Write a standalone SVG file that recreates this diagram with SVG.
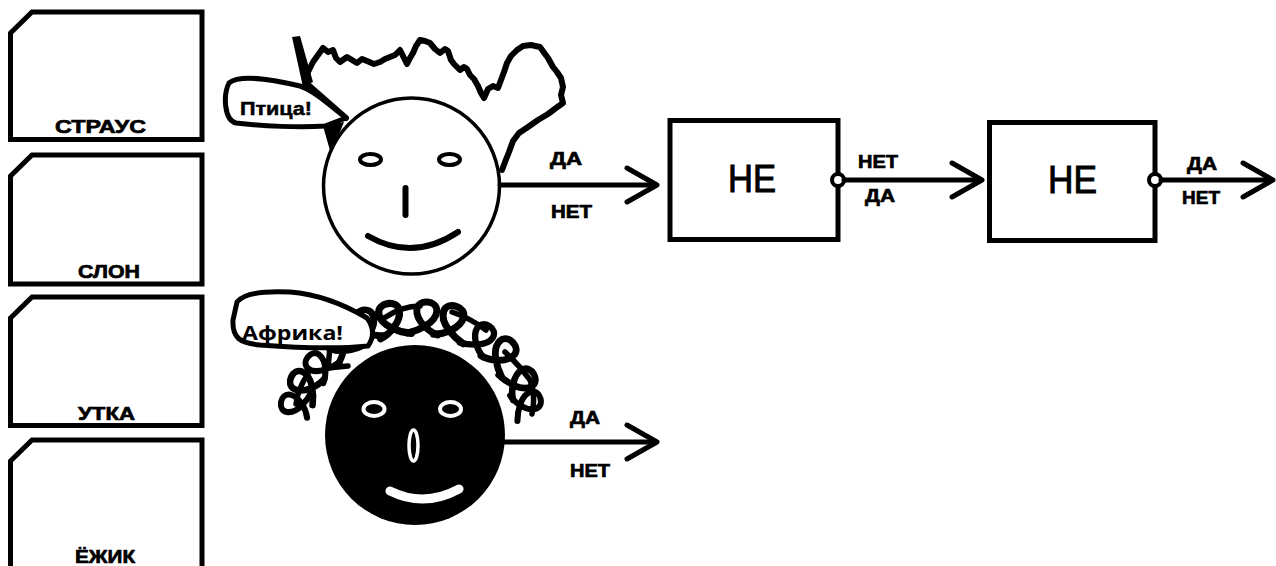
<svg xmlns="http://www.w3.org/2000/svg" width="1276" height="566" viewBox="0 0 1276 566">
  <style>
    .card{fill:#fff;stroke:#000;stroke-width:5;stroke-linejoin:miter}
    .lbl{font-family:"Liberation Sans",Arial,sans-serif;font-weight:bold;font-size:19px;fill:#000;stroke:#000;stroke-width:0.7}
    .gate{fill:#fff;stroke:#000;stroke-width:5}
    .gname{font-family:"Liberation Sans",Arial,sans-serif;font-size:38px;fill:#000;stroke:#000;stroke-width:1;text-anchor:middle}
    .wire{fill:none;stroke:#000;stroke-width:5;stroke-linecap:round;stroke-linejoin:round}
    .inv{fill:#fff;stroke:#000;stroke-width:4}
    .ink{fill:none;stroke:#000;stroke-width:6;stroke-linecap:round;stroke-linejoin:round}
    .bubble{fill:#fff;stroke:#000;stroke-width:5;stroke-linejoin:round}
    .say{font-family:"Liberation Sans",Arial,sans-serif;font-weight:bold;font-size:19px;fill:#000;stroke:#000;stroke-width:0.5}
    .curl{fill:none;stroke:#000;stroke-width:5.5;stroke-linecap:round;stroke-linejoin:round}
  </style>
  <defs>
    <path id="chevron" d="M-30,-17 L0,0 L-30,17"/>
    <!-- one loop of curly hair, opening outward along -y -->
    <path id="curl" d="M-12,4 C-5,2 6,-6 6,-15 C6,-24 -10,-24 -10,-15 C-10,-5 5,2 12,4"/>
  </defs>
  <rect width="1276" height="566" fill="#fff"/>

  <!-- cards -->
  <g id="card-straus">
    <path class="card" d="M10.5,33 L32,12 L202,12 L202,139.5 L10.5,139.5 Z"/>
    <text class="lbl" x="55" y="133" textLength="91" lengthAdjust="spacingAndGlyphs">СТРАУС</text>
  </g>
  <g id="card-slon">
    <path class="card" d="M10.5,176 L32,155 L202,155 L202,284 L10.5,284 Z"/>
    <text class="lbl" x="78" y="278" textLength="62" lengthAdjust="spacingAndGlyphs">СЛОН</text>
  </g>
  <g id="card-utka">
    <path class="card" d="M10.5,318 L32,297 L202,297 L202,425.5 L10.5,425.5 Z"/>
    <text class="lbl" x="78" y="420" textLength="57" lengthAdjust="spacingAndGlyphs">УТКА</text>
  </g>
  <g id="card-ezhik">
    <path class="card" d="M10.5,461 L32,440 L202,440 L202,572 L10.5,572 Z"/>
    <text class="lbl" x="75" y="563" textLength="60" lengthAdjust="spacingAndGlyphs">ЁЖИК</text>
  </g>

  <!-- face 1: white head with spiky hair -->
  <g id="face-bird">
    <polygon points="292,37 300,36 313,82 303,87" fill="#000"/>
    <path class="ink" d="M305,78 L309,70 L313,62 L318,55 L323,48 L328,52 L333,50 L336,58 L340,62 L347,57 L352,60 L357,63 L362,59 L367,61 L374,64 L380,62 L385,59 L390,57 L395,55 L400,50 L404,58 L407,64 L410,58 L413,53 L416,46 L420,40 L425,41 L430,43 L435,49 L440,53 L445,49 L448,51 L451,60 L454,64 L460,70 L464,67 L467,69 L470,75 L474,79 L478,86 L481,93 L484,98 L488,89 L493,86 L498,88 L501,80 L504,72 L507,63 L511,56 L517,50 L523,46 L531,45 L540,47 L545,54 L548,58 L553,67 L557,72 L561,78 L563,87 L561,95 L563,103 L556,108 L548,114 L538,120 L528,127 L519,133 L513,141 L509,152 L505,162 L502,170"/>
    <path class="ink" stroke-width="4" d="M306,83 L346,118"/>
    <path class="bubble" d="M229,83 C240,74 270,79 300,86 C313,90 330,105 346,118 L325,126 C300,128 262,126 236,123 C224,120 223,95 229,83 Z"/>
    <polygon points="323,126 344,122 331,154" fill="#000"/>
    <text class="say" x="240" y="115" textLength="72" lengthAdjust="spacingAndGlyphs">Птица!</text>
    <circle cx="411.5" cy="186" r="88" fill="#fff" stroke="#000" stroke-width="3.5"/>
    <ellipse cx="370.5" cy="159.5" rx="10.5" ry="5.5" fill="none" stroke="#000" stroke-width="4"/>
    <ellipse cx="449.5" cy="159.5" rx="10.5" ry="5.5" fill="none" stroke="#000" stroke-width="4"/>
    <path class="ink" stroke-width="4" d="M405.5,188 L405.5,215"/>
    <path class="ink" stroke-width="4" d="M368,236 Q413,262 458,232"/>
  </g>

  <!-- face 2: black head with curly hair -->
  <g id="face-africa">
    <g class="curl">
      <use href="#curl" transform="translate(305,404) rotate(-80) scale(1.1)"/>
      <use href="#curl" transform="translate(314,390) rotate(-66) scale(-1.2,1.2)"/>
      <use href="#curl" transform="translate(328,370) rotate(-52) scale(1.1)"/>
      <use href="#curl" transform="translate(346,352) rotate(-38) scale(1.2)"/>
      <use href="#curl" transform="translate(369,337) rotate(-24) scale(-1.25,1.25)"/>
      <use href="#curl" transform="translate(395,331) rotate(-10) scale(1.3)"/>
      <use href="#curl" transform="translate(423,329) rotate(4) scale(-1.25,1.25)"/>
      <use href="#curl" transform="translate(450,334) rotate(18) scale(1.3)"/>
      <use href="#curl" transform="translate(474,346) rotate(32) scale(-1.15,1.15)"/>
      <use href="#curl" transform="translate(495,363) rotate(46) scale(1.25)"/>
      <use href="#curl" transform="translate(510,385) rotate(60) scale(-1.2,1.2)"/>
      <use href="#curl" transform="translate(518,407) rotate(74) scale(1.1)"/>
      <path d="M296,404 Q298,388 308,374 M384,318 Q402,306 420,306 M452,312 Q470,318 486,330 M505,352 Q520,366 530,380 Q536,396 532,414"/>
      <path d="M330,347 L328,368 L348,366"/>
    </g>
    <path class="bubble" d="M237,302 C245,292 270,291 290,292 C315,294 340,302 367,318 C373,326 375,336 368,346 C340,349 300,348 260,345 C240,343 232,338 233,320 Z"/>
    <text x="242" y="340" textLength="101" lengthAdjust="spacingAndGlyphs" font-family="'Open Sans','Liberation Sans',sans-serif" font-weight="bold" font-size="19">Африка!</text>
    <circle cx="415" cy="435" r="90" fill="#000"/>
    <ellipse cx="374" cy="409" rx="10.5" ry="7" fill="#000" stroke="#fff" stroke-width="4"/>
    <ellipse cx="450.5" cy="409" rx="10.5" ry="7" fill="#000" stroke="#fff" stroke-width="4"/>
    <ellipse cx="413.5" cy="445.5" rx="4.5" ry="15.5" fill="#000" stroke="#fff" stroke-width="3.5"/>
    <path d="M390,491 Q424,508 459,489" fill="none" stroke="#fff" stroke-width="9" stroke-linecap="round"/>
  </g>

  <!-- NOT gates -->
  <g id="gate-1">
    <rect class="gate" x="670" y="120.5" width="168" height="119"/>
    <text class="gname" x="752" y="192" textLength="48" lengthAdjust="spacingAndGlyphs">НЕ</text>
    <circle class="inv" cx="838" cy="180" r="6"/>
  </g>
  <g id="gate-2">
    <rect class="gate" x="989.5" y="122.5" width="165.5" height="118"/>
    <text class="gname" x="1072.5" y="193" textLength="49" lengthAdjust="spacingAndGlyphs">НЕ</text>
    <circle class="inv" cx="1155" cy="180" r="6"/>
  </g>

  <!-- connectors -->
  <g id="connectors">
    <path class="wire" d="M500,185 L655,185"/>
    <use href="#chevron" class="wire" transform="translate(657,185)"/>
    <path class="wire" d="M844,180 L980,180"/>
    <use href="#chevron" class="wire" transform="translate(982,180)"/>
    <path class="wire" d="M1161,180 L1271,180"/>
    <use href="#chevron" class="wire" transform="translate(1273,180)"/>
    <path class="wire" d="M505,442 L655,442"/>
    <use href="#chevron" class="wire" transform="translate(657,442)"/>

    <text class="lbl" x="550" y="165" textLength="32" lengthAdjust="spacingAndGlyphs">ДА</text>
    <text class="lbl" x="551" y="218" textLength="41" lengthAdjust="spacingAndGlyphs">НЕТ</text>
    <text class="lbl" x="858" y="168" textLength="40" lengthAdjust="spacingAndGlyphs">НЕТ</text>
    <text class="lbl" x="865" y="202" textLength="30" lengthAdjust="spacingAndGlyphs">ДА</text>
    <text class="lbl" x="1187" y="170" textLength="30" lengthAdjust="spacingAndGlyphs">ДА</text>
    <text class="lbl" x="1182" y="204" textLength="38" lengthAdjust="spacingAndGlyphs">НЕТ</text>
    <text class="lbl" x="570" y="424" textLength="30" lengthAdjust="spacingAndGlyphs">ДА</text>
    <text class="lbl" x="570" y="477" textLength="40" lengthAdjust="spacingAndGlyphs">НЕТ</text>
  </g>
</svg>
